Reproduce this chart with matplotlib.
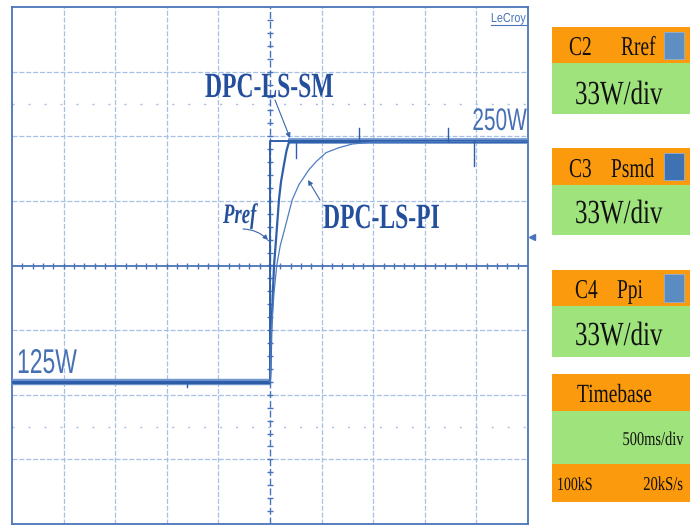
import numpy as np
import matplotlib.pyplot as plt
from matplotlib.patheffects import AbstractPathEffect
from matplotlib.transforms import Affine2D
from matplotlib.patches import Rectangle

# reference step (s, W)
t_ref = [-2.5, 0.0, 0.0, 2.5]
p_ref = [125, 125, 250, 250]

# DPC-LS-SM response
t_sm = [-2.5, 0.0, 0.005, 0.013, 0.039, 0.06, 0.087, 0.107, 0.136, 0.16, 0.184, 0.2, 2.5]
p_sm = [125, 125, 131, 152, 185.5, 200, 219.7, 229, 238, 245, 249.5, 250, 250]

# DPC-LS-PI response
t_pi = [0.0, 0.005, 0.013, 0.04, 0.065, 0.1, 0.145, 0.215, 0.28, 0.378, 0.45, 0.543, 0.669, 0.8, 1.0, 2.5]
p_pi = [125, 131, 152, 172, 185.5, 196, 205, 219.5, 227.4, 235.2, 239.5, 244, 246.6, 248.5, 249.5, 250]

# single-sample noise spikes
t_spk = [-0.80, 0.25, 0.86, 1.72, 1.98]
p_spk = [122.5, 241, 257, 257, 237]

# scope settings
w_div = 33.5      # W per division
t_div = 0.5       # s per division
p_mid = 185.5     # W at screen centre

W, H = 691, 525
BLUE = '#2f5fa8'
GRID = '#a6c1e4'
FRAME = '#4a74b9'
ORANGE = '#fb9a0c'
GREEN = '#9fe37c'


class Stretch(AbstractPathEffect):
    """draw text glyphs scaled vertically about the baseline"""
    def __init__(self, sy):
        super().__init__()
        self.sy = sy

    def draw_path(self, renderer, gc, tpath, affine, rgbFace=None):
        renderer.draw_path(gc, tpath, Affine2D().scale(1, self.sy) + affine, rgbFace)


fig = plt.figure(figsize=(W / 100, H / 100), dpi=100)
fig.patch.set_facecolor('white')

ax = fig.add_axes([12 / W, 1 / H, 516 / W, 517 / H])
ax.set_xlim(-5 * t_div, 5 * t_div)
ax.set_ylim(p_mid - 4 * w_div, p_mid + 4 * w_div)
ax.set_xticks([])
ax.set_yticks([])
for s in ax.spines.values():
    s.set_color(FRAME)
    s.set_linewidth(1.3)

# graticule
for i in range(1, 10):
    if i != 5:
        ax.axvline(-2.5 + i * t_div, color=GRID, lw=0.9, ls=(0, (4, 1.5)), zorder=1)
for j in range(1, 8):
    if j != 4:
        ax.axhline(p_mid + (j - 4) * w_div, color=GRID, lw=0.9, ls=(0, (4, 1.5)), zorder=1)
for k in (-2.5, 2.5):
    ax.axhline(p_mid + k * w_div, color=GRID, lw=1.0, ls=(0, (1.5, 10)), zorder=1)
ax.axhline(p_mid, color=FRAME, lw=1.3, zorder=2)
ax.axvline(0, color=FRAME, lw=1.0, ls=(0, (5, 2)), zorder=2)
xt = np.arange(-2.4, 2.45, 0.1)
ax.plot(xt, np.full_like(xt, p_mid), ls='none', marker='|', ms=5, mew=1.0, color=FRAME, zorder=2)
yt = p_mid + np.arange(-3.8, 3.85, 0.2) * w_div
ax.plot(np.zeros_like(yt), yt, ls='none', marker='_', ms=4, mew=1.0, color=FRAME, zorder=2)

# traces: noisy steady levels drawn as a soft band with a darker core
for lw, c in ((4.6, '#6f95cf'), (2.2, '#2c5aa4')):
    ax.plot([-2.5, 0.0], [125, 125], color=c, lw=lw, zorder=4, solid_capstyle='butt')
    ax.plot([0.17, 2.5], [250, 250], color=c, lw=lw * 0.9, zorder=4, solid_capstyle='butt')
ax.plot(t_ref, p_ref, color=BLUE, lw=1.4, zorder=4)
ax.plot(t_sm, p_sm, color=BLUE, lw=1.6, zorder=5)
ax.plot(t_pi, p_pi, color='#4f7dc2', lw=0.9, zorder=5)
for t, p in zip(t_spk, p_spk):
    ax.plot([t, t], [125 if t < 0 else 250, p], color=BLUE, lw=1.0, zorder=5)

# overlay in image pixel coordinates
ov = fig.add_axes([0, 0, 1, 1], facecolor='none')
ov.set_xlim(0, W)
ov.set_ylim(H, 0)
ov.axis('off')


def txt(x, y, s, size, sy, ha='left', **kw):
    ov.text(x, y, s, fontsize=size, ha=ha, va='baseline',
            path_effects=[Stretch(sy)], **kw)


def arrow(x0, y0, x1, y1, rad=0.0):
    ov.annotate('', xy=(x1, y1), xytext=(x0, y0),
                arrowprops=dict(arrowstyle='-|>', color='#3a66ad', lw=0.8,
                                mutation_scale=7, shrinkA=0, shrinkB=0,
                                connectionstyle=f'arc3,rad={rad}'))


serif = 'Liberation Serif'
sans = 'Liberation Sans'

txt(205, 97, 'DPC-LS-SM', 17, 1.5, family=serif, weight='bold', color='#234f9c')
txt(323, 228, 'DPC-LS-PI', 17, 1.5, family=serif, weight='bold', color='#234f9c')
txt(223, 223, 'Pref', 13.5, 1.5, family=serif, weight='bold', style='italic', color='#234f9c')
txt(17, 373, '125W', 16.5, 1.5, family=sans, color='#4670b4')
txt(527, 130, '250W', 15, 1.5, ha='right', family=sans, color='#4670b4')
txt(526, 22, 'LeCroy', 7.8, 1.2, ha='right', family=sans, color=FRAME)
ov.plot([491, 526], [25, 25], color=FRAME, lw=0.8)
ov.plot([532], [237], marker='<', ms=4, color=FRAME)

arrow(275, 100, 290, 138)
arrow(320, 200, 308, 180)
arrow(243, 229, 268, 240, rad=-0.2)

# channel / timebase panel
boxes = [(27, 63, ORANGE), (63, 114, GREEN),
         (148, 185, ORANGE), (185, 235, GREEN),
         (270, 306, ORANGE), (306, 357, GREEN),
         (374, 411, ORANGE), (411, 464, GREEN), (464, 502, ORANGE)]
for y0, y1, c in boxes:
    ov.add_patch(Rectangle((552, y0), 138, y1 - y0, facecolor=c, edgecolor='none'))
for y0, y1, c in [(32, 59, '#5f8fc2'), (153, 180, '#3e72b2'), (274, 302, '#5b8cc1')]:
    ov.add_patch(Rectangle((664, y0), 20, y1 - y0, facecolor=c, edgecolor='#8fb0d6', lw=0.6))

ch_names = ['C2', 'C3', 'C4']
ch_sigs = ['Rref', 'Psmd', 'Ppi']
ch_scale = ['33W/div', '33W/div', '33W/div']
head_y = [55, 177, 298]
head_x = [(569, 621), (569, 611), (575, 617)]
body_y = [104, 223, 345]
for n, s, sc, hy, (xa, xb), by in zip(ch_names, ch_sigs, ch_scale, head_y, head_x, body_y):
    txt(xa, hy, n, 14, 1.4, family=serif, color='#111111')
    txt(xb, hy, s, 14, 1.4, family=serif, color='#111111')
    txt(575, by, sc, 18, 1.35, family=serif, color='#111111')

txt(577, 402, 'Timebase', 14, 1.35, family=serif, color='#111111')
txt(683, 445, '500ms/div', 10.4, 1.35, ha='right', family=serif, color='#111111')
txt(557, 490, '100kS', 10, 1.35, family=serif, color='#111111')
txt(683, 490, '20kS/s', 10.5, 1.35, ha='right', family=serif, color='#111111')

fig.savefig('out.png', dpi=100)
